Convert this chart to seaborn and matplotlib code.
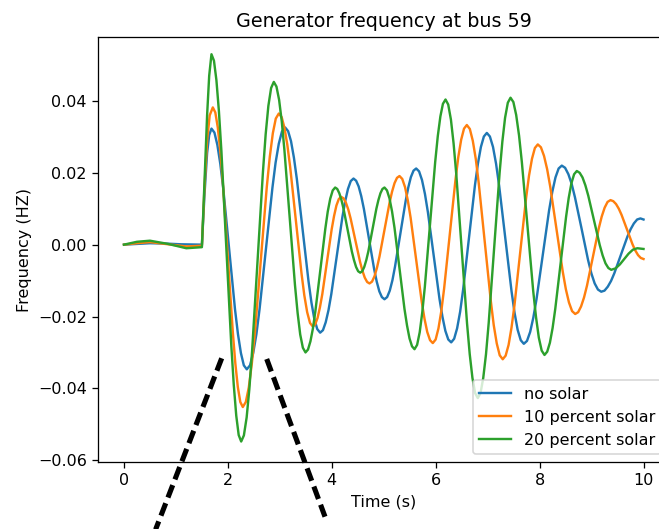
import matplotlib
matplotlib.use("Agg")
import matplotlib.pyplot as plt
from matplotlib.lines import Line2D
import pandas as pd
import seaborn as sns

# ---------------- data ----------------
series_names = ["no solar", "10 percent solar", "20 percent solar"]
series_colors = ["#1f77b4", "#ff7f0e", "#2ca02c"]

t_no_solar = [
    0.00, 0.25, 0.50, 0.80, 1.10, 1.49, 1.50, 1.55, 1.60, 1.64,
    1.684, 1.741, 1.797, 1.854, 1.911, 2.024, 2.137, 2.194, 2.251, 2.307,
    2.364, 2.426, 2.487, 2.549, 2.610, 2.734, 2.857, 2.918, 2.980, 3.041,
    3.103, 3.159, 3.215, 3.271, 3.327, 3.440, 3.552, 3.608, 3.664, 3.720,
    3.776, 3.830, 3.883, 3.937, 3.990, 4.097, 4.204, 4.258, 4.311, 4.365,
    4.418, 4.468, 4.517, 4.567, 4.617, 4.716, 4.815, 4.865, 4.915, 4.964,
    5.014, 5.065, 5.116, 5.167, 5.217, 5.319, 5.421, 5.472, 5.522, 5.573,
    5.624, 5.680, 5.736, 5.793, 5.849, 5.961, 6.073, 6.130, 6.186, 6.242,
    6.298, 6.355, 6.412, 6.470, 6.527, 6.641, 6.755, 6.813, 6.870, 6.927,
    6.984, 7.043, 7.103, 7.162, 7.221, 7.340, 7.459, 7.518, 7.577, 7.637,
    7.696, 7.757, 7.818, 7.879, 7.940, 8.062, 8.183, 8.244, 8.305, 8.366,
    8.427, 8.490, 8.554, 8.617, 8.680, 8.807, 8.933, 8.996, 9.060, 9.123,
    9.186, 9.249, 9.312, 9.375, 9.437, 9.563, 9.689, 9.752, 9.814, 9.877,
    9.940, 10.00,
]
f_no_solar = [
    0.0000, 0.0002, 0.0004, 0.0003, 0.0001, 0.0000, 0.0000, 0.0140, 0.0255, 0.0305,
    0.0323, 0.0312, 0.0278, 0.0225, 0.0156, -0.0012, -0.0180, -0.0249, -0.0302, -0.0336,
    -0.0347, -0.0336, -0.0302, -0.0249, -0.0179, -0.0011, 0.0158, 0.0228, 0.0281, 0.0315,
    0.0326, 0.0316, 0.0288, 0.0242, 0.0183, 0.0041, -0.0102, -0.0161, -0.0207, -0.0235,
    -0.0245, -0.0238, -0.0216, -0.0182, -0.0138, -0.0031, 0.0077, 0.0121, 0.0155, 0.0177,
    0.0184, 0.0178, 0.0162, 0.0135, 0.0100, 0.0016, -0.0068, -0.0103, -0.0130, -0.0146,
    -0.0152, -0.0146, -0.0128, -0.0099, -0.0061, 0.0030, 0.0121, 0.0159, 0.0188, 0.0206,
    0.0212, 0.0204, 0.0180, 0.0141, 0.0091, -0.0030, -0.0151, -0.0201, -0.0240, -0.0264,
    -0.0272, -0.0262, -0.0233, -0.0187, -0.0126, 0.0020, 0.0165, 0.0226, 0.0272, 0.0301,
    0.0311, 0.0301, 0.0272, 0.0225, 0.0164, 0.0018, -0.0129, -0.0190, -0.0237, -0.0266,
    -0.0276, -0.0268, -0.0243, -0.0203, -0.0152, -0.0028, 0.0096, 0.0147, 0.0187, 0.0212,
    0.0220, 0.0214, 0.0196, 0.0169, 0.0132, 0.0045, -0.0043, -0.0080, -0.0108, -0.0125,
    -0.0131, -0.0128, -0.0117, -0.0101, -0.0080, -0.0029, 0.0022, 0.0043, 0.0059, 0.0070,
    0.0073, 0.0070,
]

t_10_solar = [
    0.00, 0.25, 0.50, 0.85, 1.20, 1.49, 1.50, 1.55, 1.60, 1.65,
    1.710, 1.758, 1.806, 1.854, 1.902, 1.999, 2.095, 2.143, 2.191, 2.239,
    2.287, 2.345, 2.403, 2.460, 2.518, 2.634, 2.749, 2.807, 2.865, 2.922,
    2.980, 3.035, 3.089, 3.144, 3.198, 3.308, 3.417, 3.471, 3.526, 3.581,
    3.635, 3.680, 3.726, 3.771, 3.817, 3.908, 3.998, 4.044, 4.089, 4.135,
    4.180, 4.226, 4.271, 4.317, 4.362, 4.453, 4.544, 4.590, 4.635, 4.681,
    4.726, 4.774, 4.822, 4.870, 4.918, 5.015, 5.111, 5.159, 5.207, 5.255,
    5.303, 5.356, 5.410, 5.463, 5.517, 5.624, 5.730, 5.784, 5.837, 5.891,
    5.944, 5.999, 6.053, 6.108, 6.162, 6.272, 6.381, 6.435, 6.490, 6.545,
    6.599, 6.657, 6.714, 6.772, 6.829, 6.945, 7.060, 7.117, 7.175, 7.232,
    7.290, 7.346, 7.403, 7.459, 7.515, 7.628, 7.740, 7.796, 7.853, 7.909,
    7.965, 8.025, 8.085, 8.145, 8.205, 8.325, 8.445, 8.505, 8.565, 8.625,
    8.685, 8.742, 8.798, 8.855, 8.912, 9.025, 9.138, 9.195, 9.252, 9.308,
    9.365, 9.418, 9.471, 9.524, 9.577, 9.683, 9.788, 9.841, 9.894, 9.947,
    10.00,
]
f_10_solar = [
    0.0000, 0.0004, 0.0007, 0.0001, -0.0005, -0.0003, -0.0003, 0.0160, 0.0290, 0.0360,
    0.0382, 0.0368, 0.0326, 0.0260, 0.0174, -0.0035, -0.0244, -0.0330, -0.0396, -0.0438,
    -0.0452, -0.0438, -0.0397, -0.0332, -0.0248, -0.0044, 0.0161, 0.0245, 0.0310, 0.0351,
    0.0365, 0.0355, 0.0325, 0.0278, 0.0217, 0.0069, -0.0080, -0.0141, -0.0188, -0.0218,
    -0.0228, -0.0222, -0.0204, -0.0175, -0.0138, -0.0048, 0.0043, 0.0080, 0.0109, 0.0127,
    0.0133, 0.0129, 0.0117, 0.0098, 0.0073, 0.0013, -0.0048, -0.0073, -0.0092, -0.0104,
    -0.0108, -0.0103, -0.0088, -0.0064, -0.0033, 0.0042, 0.0116, 0.0147, 0.0171, 0.0186,
    0.0191, 0.0183, 0.0160, 0.0123, 0.0075, -0.0042, -0.0158, -0.0206, -0.0243, -0.0266,
    -0.0274, -0.0264, -0.0233, -0.0185, -0.0122, 0.0030, 0.0181, 0.0244, 0.0292, 0.0323,
    0.0333, 0.0322, 0.0289, 0.0238, 0.0170, 0.0007, -0.0156, -0.0224, -0.0275, -0.0308,
    -0.0319, -0.0309, -0.0279, -0.0231, -0.0170, -0.0020, 0.0130, 0.0192, 0.0239, 0.0269,
    0.0279, 0.0271, 0.0247, 0.0210, 0.0161, 0.0043, -0.0075, -0.0124, -0.0161, -0.0185,
    -0.0193, -0.0188, -0.0172, -0.0147, -0.0114, -0.0035, 0.0045, 0.0078, 0.0103, 0.0119,
    0.0124, 0.0121, 0.0113, 0.0100, 0.0083, 0.0042, 0.0001, -0.0016, -0.0029, -0.0037,
    -0.0040,
]

t_20_solar = [
    0.00, 0.25, 0.50, 0.85, 1.20, 1.49, 1.50, 1.55, 1.60, 1.64,
    1.684, 1.732, 1.779, 1.827, 1.875, 1.970, 2.065, 2.113, 2.161, 2.208,
    2.256, 2.308, 2.361, 2.413, 2.465, 2.570, 2.675, 2.727, 2.779, 2.832,
    2.884, 2.935, 2.986, 3.037, 3.087, 3.189, 3.291, 3.342, 3.392, 3.443,
    3.494, 3.542, 3.589, 3.637, 3.684, 3.780, 3.875, 3.922, 3.970, 4.018,
    4.065, 4.105, 4.145, 4.186, 4.226, 4.306, 4.386, 4.427, 4.467, 4.507,
    4.547, 4.586, 4.625, 4.664, 4.703, 4.781, 4.858, 4.897, 4.936, 4.975,
    5.014, 5.062, 5.110, 5.159, 5.207, 5.303, 5.399, 5.448, 5.496, 5.544,
    5.592, 5.642, 5.692, 5.741, 5.791, 5.891, 5.990, 6.040, 6.090, 6.139,
    6.189, 6.241, 6.293, 6.344, 6.396, 6.500, 6.603, 6.655, 6.707, 6.758,
    6.810, 6.863, 6.915, 6.968, 7.020, 7.125, 7.230, 7.283, 7.335, 7.388,
    7.440, 7.495, 7.549, 7.604, 7.658, 7.767, 7.876, 7.931, 7.985, 8.040,
    8.094, 8.146, 8.198, 8.250, 8.301, 8.405, 8.509, 8.560, 8.612, 8.664,
    8.716, 8.771, 8.826, 8.881, 8.937, 9.047, 9.157, 9.213, 9.268, 9.323,
    9.378, 9.462, 9.545, 9.629, 9.713, 9.796, 9.880, 10.00,
]
f_20_solar = [
    0.0000, 0.0008, 0.0011, 0.0002, -0.0010, -0.0007, -0.0007, 0.0180, 0.0360, 0.0470,
    0.0530, 0.0512, 0.0458, 0.0372, 0.0261, -0.0009, -0.0279, -0.0390, -0.0476, -0.0530,
    -0.0548, -0.0531, -0.0481, -0.0402, -0.0298, -0.0048, 0.0203, 0.0307, 0.0386, 0.0436,
    0.0453, 0.0440, 0.0403, 0.0343, 0.0265, 0.0077, -0.0112, -0.0190, -0.0250, -0.0287,
    -0.0300, -0.0292, -0.0269, -0.0233, -0.0185, -0.0071, 0.0044, 0.0092, 0.0128, 0.0151,
    0.0159, 0.0155, 0.0143, 0.0124, 0.0100, 0.0041, -0.0019, -0.0043, -0.0062, -0.0074,
    -0.0078, -0.0074, -0.0062, -0.0043, -0.0019, 0.0041, 0.0100, 0.0124, 0.0143, 0.0155,
    0.0159, 0.0151, 0.0129, 0.0093, 0.0047, -0.0066, -0.0179, -0.0225, -0.0261, -0.0283,
    -0.0291, -0.0279, -0.0244, -0.0189, -0.0117, 0.0057, 0.0230, 0.0302, 0.0357, 0.0392,
    0.0404, 0.0390, 0.0348, 0.0282, 0.0196, -0.0012, -0.0219, -0.0305, -0.0371, -0.0413,
    -0.0427, -0.0413, -0.0371, -0.0305, -0.0218, -0.0009, 0.0200, 0.0287, 0.0353, 0.0395,
    0.0409, 0.0397, 0.0361, 0.0304, 0.0230, 0.0051, -0.0128, -0.0202, -0.0259, -0.0295,
    -0.0307, -0.0298, -0.0273, -0.0232, -0.0179, -0.0051, 0.0077, 0.0130, 0.0171, 0.0196,
    0.0205, 0.0200, 0.0187, 0.0165, 0.0136, 0.0068, -0.0001, -0.0030, -0.0052, -0.0065,
    -0.0070, -0.0066, -0.0055, -0.0040, -0.0025, -0.0014, -0.0010, -0.0012,
]

x_ticks = [0, 2, 4, 6, 8, 10]
y_ticks = [-0.06, -0.04, -0.02, 0.00, 0.02, 0.04]

# ---------------- build long table ----------------
frames = []
for name, tt, ff in zip(series_names,
                        [t_no_solar, t_10_solar, t_20_solar],
                        [f_no_solar, f_10_solar, f_20_solar]):
    frames.append(pd.DataFrame({"Time": tt, "Frequency": ff, "series": name}))
df = pd.concat(frames, ignore_index=True)

# ---------------- figure ----------------
DPI = 115
fig = plt.figure(figsize=(659 / DPI, 529 / DPI), dpi=DPI)
ax = fig.add_axes([98 / 659, 67 / 529, 571.5 / 659, 425 / 529])

sns.lineplot(data=df, x="Time", y="Frequency", hue="series",
             hue_order=series_names, palette=series_colors,
             estimator=None, sort=False, linewidth=1.5, ax=ax)
for line in ax.get_lines():
    line.set_solid_joinstyle("round")

ax.set_xlim(-0.5, 10.5)
ax.set_ylim(-0.0605, 0.0578)
ax.set_xticks(x_ticks)
ax.set_yticks(y_ticks)
ax.set_xlabel("Time (s)")
ax.set_ylabel("Frequency (HZ)")
ax.set_title("Generator frequency at bus 59", fontsize=12)
sns.move_legend(ax, "lower right", title=None, fontsize=10)

# dashed zoom-indicator lines drawn on top of the figure
W, H = 659, 529
for (x0, y0, x1, y1) in [(221.7, 358.3, 155.6, 529.5), (266.7, 359.0, 325.0, 516.7)]:
    ln = Line2D([x0 / W, x1 / W], [1 - y0 / H, 1 - y1 / H],
                transform=fig.transFigure, color="black", linewidth=3.2,
                linestyle=(0, (2.6, 1.2)), solid_capstyle="butt",
                dash_capstyle="butt", zorder=10)
    fig.add_artist(ln)

fig.savefig("out.png", dpi=DPI)
